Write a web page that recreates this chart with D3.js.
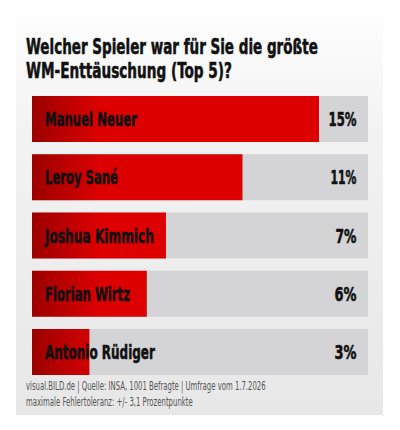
<!DOCTYPE html>
<html><head><meta charset="utf-8">
<script src="https://cdn.jsdelivr.net/npm/d3@7"></script>
<style>
html,body{margin:0;padding:0;background:#fff;}
svg{display:block;}
</style></head>
<body>
<script>
const titleLines = ["Welcher Spieler war für Sie die größte", "WM-Enttäuschung (Top 5)?"];
const players = ["Manuel Neuer", "Leroy Sané", "Joshua Kimmich", "Florian Wirtz", "Antonio Rüdiger"];
const percents = [15, 11, 7, 6, 3];
const footerLines = ["visual.BILD.de | Quelle: INSA, 1001 Befragte | Umfrage vom 1.7.2026", "maximale Fehlertoleranz: +/- 3,1 Prozentpunkte"];

const W = 400, H = 430;
const FONT = "'Liberation Sans Narrow','DejaVu Sans Condensed','Arial Narrow',sans-serif";
const svg = d3.select("body").append("svg").attr("width", W).attr("height", H);
const defs = svg.append("defs");

const pg = defs.append("linearGradient").attr("id","panelG").attr("x1",0).attr("y1",0).attr("x2",0).attr("y2",1);
pg.append("stop").attr("offset",0).attr("stop-color","#ffffff");
pg.append("stop").attr("offset",0.3).attr("stop-color","#f3f3f3");
pg.append("stop").attr("offset",1).attr("stop-color","#e7e7e7");

const rg = defs.append("linearGradient").attr("id","redG").attr("gradientUnits","userSpaceOnUse")
  .attr("x1",32).attr("x2",100).attr("y1",0).attr("y2",0);
rg.append("stop").attr("offset",0).attr("stop-color","#9c0000");
rg.append("stop").attr("offset",1).attr("stop-color","#dc0000");

svg.append("rect").attr("x",16).attr("y",0).attr("width",367).attr("height",415).attr("fill","url(#panelG)");

const data = players.map((p,i)=>({name:p, value:percents[i]}));
const x = d3.scaleLinear().domain([0, 17.56]).range([32, 368]);
const y = d3.scaleBand().domain(players).range([96, 375]).paddingInner(0.2103).paddingOuter(0);

// squeeze a text horizontally to a target width, keeping it as real text
function fit(sel, tx, ty, targetW, anchorRight) {
  sel.each(function(d,i){
    const t = d3.select(this);
    const nat = this.getComputedTextLength();
    const tw = typeof targetW === "function" ? targetW(d,i) : targetW;
    const s = tw / nat;
    const X = typeof tx === "function" ? tx(d,i) : tx;
    const Y = typeof ty === "function" ? ty(d,i) : ty;
    t.attr("x",0).attr("y",0)
     .attr("transform",`translate(${anchorRight ? X - tw : X},${Y}) scale(${s},1)`);
  });
}

const titleW = [292, 206];
const titles = svg.selectAll("text.title").data(titleLines).join("text").attr("class","title")
  .attr("font-family",FONT).attr("font-weight","bold").attr("font-size",21)
  .attr("fill","#111").attr("stroke","#111").attr("stroke-width",0.55).attr("stroke-linejoin","round")
  .text(d=>d);
fit(titles, 26, (d,i)=>53.5+i*24, (d,i)=>titleW[i], false);

const rows = svg.selectAll("g.row").data(data).join("g").attr("class","row");
rows.append("rect").attr("x",x(0)).attr("y",d=>y(d.name)).attr("width",x(17.56)-x(0)).attr("height",y.bandwidth()).attr("fill","#d4d4d7");
rows.append("rect").attr("x",x(0)).attr("y",d=>y(d.name)).attr("width",d=>x(d.value)-x(0)).attr("height",y.bandwidth()).attr("fill","url(#redG)");

const labelW = [92, 73, 109, 85, 110];
const labels = rows.append("text")
  .attr("font-family",FONT).attr("font-weight","bold").attr("font-size",19.5)
  .attr("fill","#111").attr("stroke","#111").attr("stroke-width",0.55).attr("stroke-linejoin","round")
  .text(d=>d.name);
fit(labels, 45, d=>y(d.name)+y.bandwidth()/2+7, (d,i)=>labelW[i], false);

const pctW = [28, 26, 21, 22, 22];
const pcts = rows.append("text")
  .attr("font-family",FONT).attr("font-weight","bold").attr("font-size",19.5)
  .attr("fill","#111").attr("stroke","#111").attr("stroke-width",0.55).attr("stroke-linejoin","round")
  .text(d=>d.value+"%");
fit(pcts, 356.5, d=>y(d.name)+y.bandwidth()/2+7, (d,i)=>pctW[i], true);

const footW = [240, 167];
const foots = svg.selectAll("text.foot").data(footerLines).join("text").attr("class","foot")
  .attr("font-family",FONT).attr("font-size",11.5)
  .attr("fill","#555")
  .text(d=>d);
fit(foots, 26, (d,i)=>389.5+i*16.5, (d,i)=>footW[i], false);
</script>
</body></html>
